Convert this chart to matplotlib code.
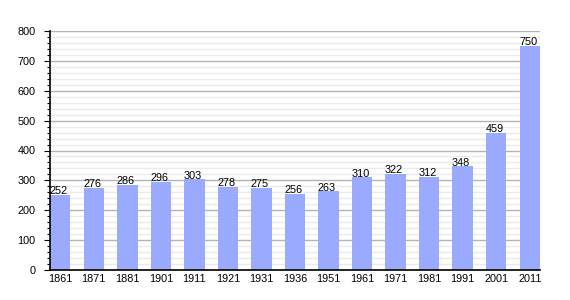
import numpy as np
import matplotlib
matplotlib.use('Agg')
import matplotlib.pyplot as plt
from matplotlib.ticker import MultipleLocator

plt.rcParams['font.family'] = ['Liberation Sans', 'DejaVu Sans']

years = ['1861', '1871', '1881', '1901', '1911', '1921', '1931', '1936',
         '1951', '1961', '1971', '1981', '1991', '2001', '2011']
population = [252, 276, 286, 296, 303, 278, 275, 256, 263, 310, 322, 312, 348, 459, 750]

fig = plt.figure(figsize=(5.7, 3.0), dpi=100)
ax = fig.add_axes([50 / 570, 30 / 300, 490 / 570, 239 / 300])

w = 0.61
x = np.arange(len(years))
ax.bar(x, population, width=w, color='#99aaff', zorder=3)

for xi, v in zip(x, population):
    ax.text(xi - 0.05, v - 5, str(v), ha='center', va='bottom', fontsize=7.8,
            color='black', zorder=4)

ax.set_xlim(-w / 2, len(years) - 1 + w / 2)
ax.set_ylim(0, 800)
ax.set_xticks(x)
ax.set_xticklabels(years, fontsize=7.8)
ax.tick_params(axis='x', length=0, pad=3)

ax.yaxis.set_major_locator(MultipleLocator(100))
ax.yaxis.set_minor_locator(MultipleLocator(20))
ax.tick_params(axis='y', which='major', length=4, width=0.8, labelsize=7.8, pad=6.5)
ax.tick_params(axis='y', which='minor', length=2.5, width=0.8)

ax.grid(axis='y', which='major', color='#b4b4b4', linewidth=1, zorder=1)
ax.grid(axis='y', which='minor', color='#ebebeb', linewidth=1, zorder=0)

for s in ['top', 'right']:
    ax.spines[s].set_visible(False)
ax.spines['left'].set_linewidth(1.2)
ax.spines['bottom'].set_linewidth(1.2)
ax.spines['left'].set_zorder(5)
ax.spines['bottom'].set_zorder(5)

fig.savefig('out.png', dpi=100)
